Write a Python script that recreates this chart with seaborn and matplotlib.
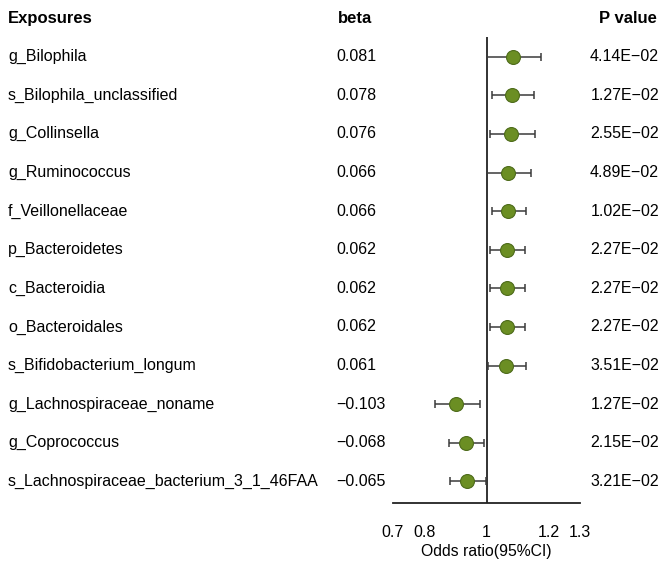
import numpy as np
import matplotlib
matplotlib.use("Agg")
import matplotlib.pyplot as plt
import matplotlib.transforms as mtransforms
import seaborn as sns

exposures = [
    "g_Bilophila",
    "s_Bilophila_unclassified",
    "g_Collinsella",
    "g_Ruminococcus",
    "f_Veillonellaceae",
    "p_Bacteroidetes",
    "c_Bacteroidia",
    "o_Bacteroidales",
    "s_Bifidobacterium_longum",
    "g_Lachnospiraceae_noname",
    "g_Coprococcus",
    "s_Lachnospiraceae_bacterium_3_1_46FAA",
]
beta = ["0.081", "0.078", "0.076", "0.066", "0.066", "0.062", "0.062", "0.062",
        "0.061", "\u22120.103", "\u22120.068", "\u22120.065"]
odds_ratio = [1.085, 1.081, 1.079, 1.070, 1.069, 1.065, 1.065, 1.065, 1.064, 0.903, 0.935, 0.938]
ci_low = [1.002, 1.019, 1.010, 1.002, 1.017, 1.011, 1.011, 1.011, 1.004, 0.834, 0.881, 0.884]
ci_high = [1.175, 1.153, 1.155, 1.143, 1.126, 1.124, 1.124, 1.124, 1.127, 0.979, 0.992, 0.997]
p_values = ["4.14E\u221202", "1.27E\u221202", "2.55E\u221202", "4.89E\u221202", "1.02E\u221202",
            "2.27E\u221202", "2.27E\u221202", "2.27E\u221202", "3.51E\u221202", "1.27E\u221202",
            "2.15E\u221202", "3.21E\u221202"]
x_ticks = [0.7, 0.8, 1, 1.2, 1.3]

sns.set_style("white")
plt.rcParams["font.family"] = ["Liberation Sans", "DejaVu Sans"]
plt.rcParams["text.color"] = "black"

W, H = 661, 562
fig = plt.figure(figsize=(W / 100, H / 100), dpi=100)
ax = fig.add_axes([393 / W, (H - 503) / H, (580 - 393) / W, (503 - 37) / H])

rows = np.arange(len(exposures))
or_arr = np.array(odds_ratio)
err = [or_arr - np.array(ci_low), np.array(ci_high) - or_arr]

ax.errorbar(or_arr, rows, xerr=err, fmt="none", ecolor="#3a3a3a",
            elinewidth=1.1, capsize=3, capthick=1.1, zorder=2)
sns.scatterplot(x=or_arr, y=rows, ax=ax, s=100, color="#6b8e23",
                edgecolor="#4d6b1a", linewidth=0.8, zorder=3)
ax.axvline(1, color="#222222", lw=1.3, zorder=1)

ax.set_xlim(0.7, 1.3)
ax.set_ylim(11.56, -0.51)
ax.set_xticks(x_ticks)
ax.set_xticklabels(["0.7", "0.8", "1", "1.2", "1.3"], fontsize=11.5, color="black")
ax.set_yticks([])
ax.set_xlabel("Odds ratio(95%CI)", fontsize=11.3, labelpad=3, color="black")
for s in ["top", "right", "left"]:
    ax.spines[s].set_visible(False)
ax.spines["bottom"].set_linewidth(1.3)
ax.spines["bottom"].set_color("#222222")
ax.tick_params(axis="x", direction="out", length=7, width=1.3, color="#222222", pad=9)

trans = mtransforms.blended_transform_factory(fig.transFigure, ax.transData)
fig.text(8 / W, -1, "Exposures", transform=trans, fontsize=12, fontweight="bold", va="center")
fig.text(338 / W, -1, "beta", transform=trans, fontsize=12, fontweight="bold", va="center")
fig.text(657 / W, -1, "P value", transform=trans, fontsize=12, fontweight="bold", va="center", ha="right")
for i in rows:
    fig.text(8 / W, i, exposures[i], transform=trans, fontsize=11.5, va="center")
    fig.text(336 / W, i, beta[i], transform=trans, fontsize=11.5, va="center")
    fig.text(659 / W, i, p_values[i], transform=trans, fontsize=11.5, va="center", ha="right")

fig.savefig("out.png", dpi=100)
